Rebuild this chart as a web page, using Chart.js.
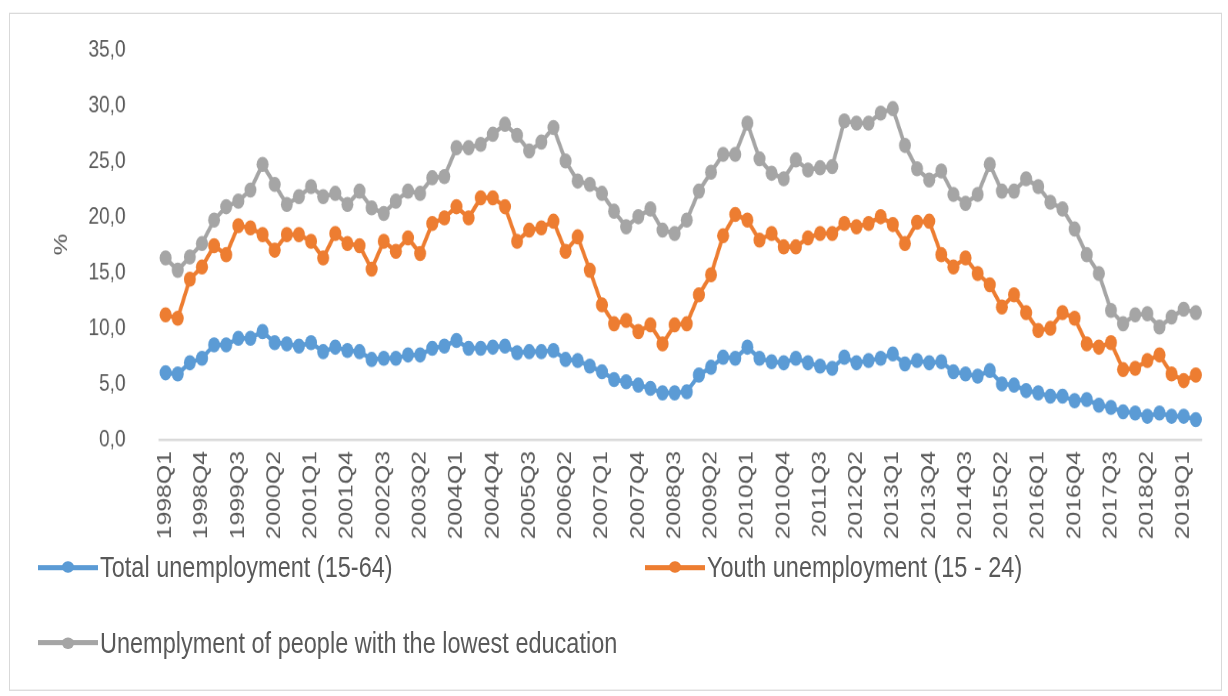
<!DOCTYPE html>
<html>
<head>
<meta charset="utf-8">
<script src="https://cdn.jsdelivr.net/npm/chart.js@4.4.1/dist/chart.umd.min.js"></script>
<style>
html,body{margin:0;padding:0;background:#fff;width:1228px;height:696px;overflow:hidden;}
#wrap{position:absolute;left:0;top:0;width:1228px;height:548px;transform:scaleY(1.27);transform-origin:0 0;}
#frame{position:absolute;left:9px;top:9.5px;width:1213px;height:534px;border:1.5px solid #d9d9d9;box-sizing:border-box;}
#c{position:absolute;left:0;top:0;}
.leg{position:absolute;height:30px;display:flex;align-items:center;font-family:'Liberation Sans',Arial,sans-serif;font-size:23.5px;color:#595959;white-space:nowrap;}
.mk{position:relative;width:60px;height:4px;margin-right:2px;}
.mk i{position:absolute;left:24px;top:-2.75px;width:12px;height:9.5px;border-radius:50%;}
</style>
</head>
<body>
<div id="wrap">
  <div id="frame"></div>
  <canvas id="c" width="1228" height="440"></canvas>
  <div id="legend"></div>
</div>
<script>
// ---- data ----
const categories = [
'1998Q1','1998Q2','1998Q3','1998Q4','1999Q1','1999Q2','1999Q3','1999Q4',
'2000Q1','2000Q2','2000Q3','2000Q4','2001Q1','2001Q2','2001Q3','2001Q4',
'2002Q1','2002Q2','2002Q3','2002Q4','2003Q1','2003Q2','2003Q3','2003Q4',
'2004Q1','2004Q2','2004Q3','2004Q4','2005Q1','2005Q2','2005Q3','2005Q4',
'2006Q1','2006Q2','2006Q3','2006Q4','2007Q1','2007Q2','2007Q3','2007Q4',
'2008Q1','2008Q2','2008Q3','2008Q4','2009Q1','2009Q2','2009Q3','2009Q4',
'2010Q1','2010Q2','2010Q3','2010Q4','2011Q1','2011Q2','2011Q3','2011Q4',
'2012Q1','2012Q2','2012Q3','2012Q4','2013Q1','2013Q2','2013Q3','2013Q4',
'2014Q1','2014Q2','2014Q3','2014Q4','2015Q1','2015Q2','2015Q3','2015Q4',
'2016Q1','2016Q2','2016Q3','2016Q4','2017Q1','2017Q2','2017Q3','2017Q4',
'2018Q1','2018Q2','2018Q3','2018Q4','2019Q1','2019Q2'];

const tickLabels = ['1998Q1','1998Q4','1999Q3','2000Q2','2001Q1','2001Q4','2002Q3','2003Q2',
'2004Q1','2004Q4','2005Q3','2006Q2','2007Q1','2007Q4','2008Q3','2009Q2','2010Q1','2010Q4',
'2011Q3','2012Q2','2013Q1','2013Q4','2014Q3','2015Q2','2016Q1','2016Q4','2017Q3','2018Q2','2019Q1'];

const seriesNames = ['Total unemployment (15-64)','Youth unemployment (15 - 24)','Unemplyment of people with the lowest education'];

const totalUnemployment = [
6.0,5.9,6.9,7.3,8.5,8.5,9.1,9.1,9.7,8.7,
8.6,8.4,8.7,7.9,8.3,8.0,7.9,7.2,7.3,7.3,
7.6,7.6,8.2,8.4,8.9,8.2,8.2,8.3,8.4,7.8,
7.9,7.9,8.0,7.2,7.1,6.6,6.1,5.4,5.2,4.9,
4.6,4.2,4.2,4.3,5.8,6.5,7.4,7.3,8.3,7.3,
7.0,6.9,7.3,6.9,6.6,6.4,7.4,6.9,7.1,7.3,
7.7,6.8,7.1,6.9,7.0,6.1,5.9,5.7,6.2,5.0,
4.9,4.4,4.2,3.9,3.9,3.5,3.6,3.1,2.9,2.5,
2.4,2.1,2.4,2.1,2.1,1.8];

const youthUnemployment = [
11.2,10.9,14.4,15.5,17.4,16.6,19.2,19.0,18.4,17.0,
18.4,18.4,17.8,16.3,18.5,17.6,17.4,15.3,17.8,16.9,
18.1,16.7,19.4,19.9,20.9,19.9,21.7,21.7,20.9,17.8,
18.8,19.0,19.6,16.9,18.2,15.2,12.1,10.4,10.7,9.7,
10.3,8.6,10.3,10.4,13.0,14.8,18.3,20.2,19.7,17.9,
18.5,17.3,17.3,18.1,18.5,18.5,19.4,19.1,19.4,20.0,
19.3,17.6,19.5,19.6,16.6,15.5,16.3,14.9,13.9,11.9,
13.0,11.4,9.8,10.0,11.4,10.9,8.6,8.3,8.7,6.3,
6.4,7.1,7.6,5.9,5.3,5.8];

const lowestEducation = [
16.3,15.2,16.4,17.6,19.7,20.9,21.4,22.4,24.7,22.9,
21.1,21.8,22.7,21.8,22.1,21.1,22.3,20.8,20.3,21.4,
22.3,22.1,23.5,23.6,26.2,26.2,26.5,27.4,28.3,27.3,
25.9,26.7,28.0,25.0,23.2,22.9,22.1,20.5,19.1,20.0,
20.7,18.8,18.5,19.7,22.3,24.0,25.6,25.6,28.4,25.2,
23.9,23.4,25.1,24.2,24.4,24.5,28.6,28.4,28.4,29.3,
29.7,26.4,24.3,23.3,24.1,22.0,21.2,22.0,24.7,22.3,
22.3,23.4,22.7,21.3,20.7,18.9,16.6,14.9,11.6,10.4,
11.2,11.3,10.1,11.0,11.7,11.4];

const yMin = 0, yMax = 35, yStep = 5;
const yTitle = '%';

// ---- styles ----
const colors = ['#5B9BD5','#ED7D31','#A5A5A5'];
const fontFamily = "'Liberation Sans', Arial, sans-serif";
const textColor = '#595959';

function ds(i, data, order){
  return {
    label: seriesNames[i], data: data, order: order,
    borderColor: colors[i], backgroundColor: colors[i],
    pointBackgroundColor: colors[i], pointBorderColor: colors[i],
    borderWidth: 3.6, pointRadius: 6, pointBorderWidth: 0, pointHoverRadius: 6,
    tension: 0, fill: false
  };
}

const chart = new Chart(document.getElementById('c'), {
  type: 'line',
  data: {
    labels: categories,
    datasets: [ds(0,totalUnemployment,2), ds(1,youthUnemployment,1), ds(2,lowestEducation,0)]
  },
  options: {
    responsive: false,
    animation: false,
    devicePixelRatio: 1.3,
    layout: { padding: { top: 39, right: 16, bottom: 0, left: 0 } },
    plugins: { legend: { display: false }, tooltip: { enabled: false } },
    scales: {
      x: {
        offset: true,
        grid: { display: false, drawTicks: false },
        border: { display: true, color: '#d9d9d9', width: 2 },
        ticks: {
          autoSkip: false, minRotation: 90, maxRotation: 90, padding: 9,
          color: textColor, font: { family: fontFamily, size: 19.5 },
          callback: function(v){ const l = this.getLabelForValue(v); return tickLabels.includes(l) ? l : ''; }
        },
        afterFit: function(s){ s.height = 93.8; }
      },
      y: {
        min: yMin, max: yMax,
        grid: { display: false, drawTicks: false },
        border: { display: false },
        ticks: {
          stepSize: yStep, padding: 34, color: textColor,
          font: { family: fontFamily, size: 19 },
          callback: v => Number(v).toFixed(1).replace('.', ',')
        },
        title: { display: true, text: yTitle, color: textColor,
                 font: { family: fontFamily, size: 19 }, padding: { top: 50.6, bottom: 0 } },
        afterFit: function(s){ s.width = 159.5; s.paddingTop = 0; s.paddingBottom = 0; }
      }
    }
  }
});

// HTML legend built from the chart's datasets
const legendPos = [[38, 431.5],[645, 431.5],[38, 491.3]];
const legendEl = document.getElementById('legend');
chart.data.datasets.forEach((d, i) => {
  const item = document.createElement('div');
  item.className = 'leg';
  item.style.left = legendPos[i][0] + 'px';
  item.style.top = legendPos[i][1] + 'px';
  const mk = document.createElement('span');
  mk.className = 'mk';
  mk.style.background = d.borderColor;
  const dot = document.createElement('i');
  dot.style.background = d.borderColor;
  mk.appendChild(dot);
  const tx = document.createElement('span');
  tx.textContent = d.label;
  item.appendChild(mk);
  item.appendChild(tx);
  legendEl.appendChild(item);
});
</script>
</body>
</html>
